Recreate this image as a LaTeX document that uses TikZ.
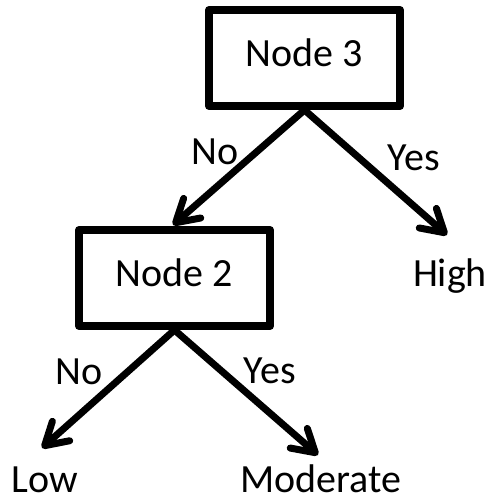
\documentclass[tikz,border=0pt]{standalone}
\usepackage{fontspec}
\setmainfont{Carlito}
\usetikzlibrary{arrows.meta}
\tikzset{
  box/.style={draw, line width=8pt, line join=round, minimum width=191pt, minimum height=96pt, inner sep=0pt, text height=27pt, text depth=9pt, font=\fontsize{40}{48}\selectfont},
  lbl/.style={anchor=base, inner sep=0pt, font=\fontsize{40}{48}\selectfont},
  conn/.style={line width=7pt, line cap=round, -{Straight Barb[length=22pt, width=26pt, line cap=round, line join=round]}}
}
\begin{document}
\begin{tikzpicture}[x=1pt,y=1pt]
\useasboundingbox (0,0) rectangle (487,501);
\node[box] (n3) at (304.5,443) {Node 3};
\node[box] (n2) at (174.5,223) {Node 2};
\coordinate (t1) at (173,276);
\coordinate (t2) at (447,266);
\coordinate (t3) at (42,53);
\coordinate (t4) at (318,46);
\node[lbl] (high) at (450,214) {High};
\node[lbl] (low) at (45,9) {Low};
\node[lbl] (mod) at (321,9) {Moderate};
\node[lbl] (no1) at (215,336) {No};
\node[lbl] (yes1) at (414,330) {Yes};
\node[lbl] (no2) at (79,116) {No};
\node[lbl] (yes2) at (270,117) {Yes};
\draw[conn] (n3.south) -- (t1);
\draw[conn] (n3.south) -- (t2);
\draw[conn] (n2.south) -- (t3);
\draw[conn] (n2.south) -- (t4);
\end{tikzpicture}
\end{document}
